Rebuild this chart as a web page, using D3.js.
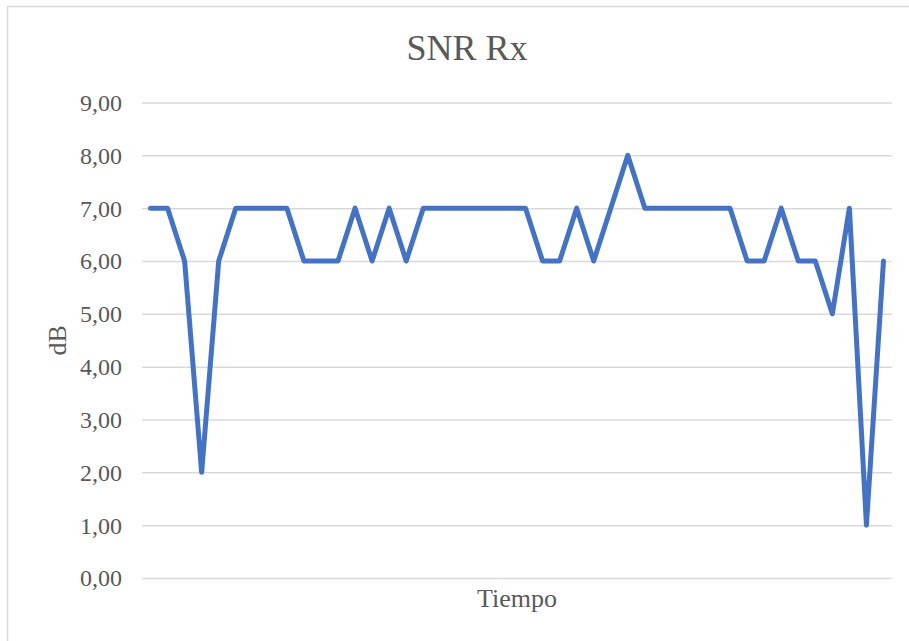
<!DOCTYPE html>
<html>
<head>
<meta charset="utf-8">
<script src="https://cdn.jsdelivr.net/npm/d3@7"></script>
<style>
  body { margin: 0; background: #fff; }
  text { font-family: "Liberation Serif", "Times New Roman", serif; fill: #595959; }
</style>
</head>
<body>
<div id="chart"></div>
<script>
// SNR readings, one per sample
var snrValues = [7, 7, 6, 2, 6, 7, 7, 7, 7, 6, 6, 6, 7, 6, 7, 6,
  7, 7, 7, 7, 7, 7, 7, 6, 6, 7, 6, 7, 8,
  7, 7, 7, 7, 7, 7, 6, 6, 7, 6, 6, 5, 7, 1, 6];
var yTicks = [0, 1, 2, 3, 4, 5, 6, 7, 8, 9];
var chartTitle = "SNR Rx";
var xTitle = "Tiempo";
var yTitle = "dB";

var svgWidth = 909;
var svgHeight = 641;
var margin = { top: 102.5, right: 17, bottom: 63, left: 142 };
var width = svgWidth - margin.left - margin.right;
var height = svgHeight - margin.top - margin.bottom;

var svg = d3.select("#chart")
  .append("svg")
  .attr("width", svgWidth)
  .attr("height", svgHeight);

// chart frame
svg.append("rect")
  .attr("x", 7.5)
  .attr("y", 6.5)
  .attr("width", 920)
  .attr("height", 660)
  .attr("fill", "none")
  .attr("stroke", "#d9d9d9")
  .attr("stroke-width", 1.5);

var chartGroup = svg.append("g")
  .attr("transform", `translate(${margin.left}, ${margin.top})`);

var xScale = d3.scaleBand()
  .domain(d3.range(snrValues.length))
  .range([0, width]);

var yScale = d3.scaleLinear()
  .domain([0, 9])
  .range([height, 0]);

// y axis with gridlines
var yAxis = d3.axisLeft(yScale)
  .tickValues(yTicks)
  .tickSize(-width)
  .tickPadding(20)
  .tickFormat(d => d3.format(".2f")(d).replace(".", ","));

var yAxisGroup = chartGroup.append("g").call(yAxis);
yAxisGroup.select(".domain").remove();
yAxisGroup.selectAll("line")
  .attr("stroke", "#d9d9d9")
  .attr("stroke-width", 1.5);
yAxisGroup.selectAll("text")
  .style("font-size", "24px")
  .attr("fill", "#595959")
  .attr("dy", "0.33em");

// line
var line = d3.line()
  .x((d, i) => xScale(i) + xScale.bandwidth() / 2)
  .y(d => yScale(d));

chartGroup.append("path")
  .datum(snrValues)
  .attr("d", line)
  .attr("fill", "none")
  .attr("stroke", "#4472c4")
  .attr("stroke-width", 5)
  .attr("stroke-linejoin", "round")
  .attr("stroke-linecap", "round");

// titles
svg.append("text")
  .attr("x", 467)
  .attr("y", 60)
  .attr("text-anchor", "middle")
  .style("font-size", "36px")
  .text(chartTitle);

svg.append("text")
  .attr("x", margin.left + width / 2)
  .attr("y", 607)
  .attr("text-anchor", "middle")
  .style("font-size", "26px")
  .text(xTitle);

svg.append("text")
  .attr("transform", `translate(66, ${margin.top + height / 2}) rotate(-90)`)
  .attr("text-anchor", "middle")
  .style("font-size", "26px")
  .text(yTitle);
</script>
</body>
</html>
